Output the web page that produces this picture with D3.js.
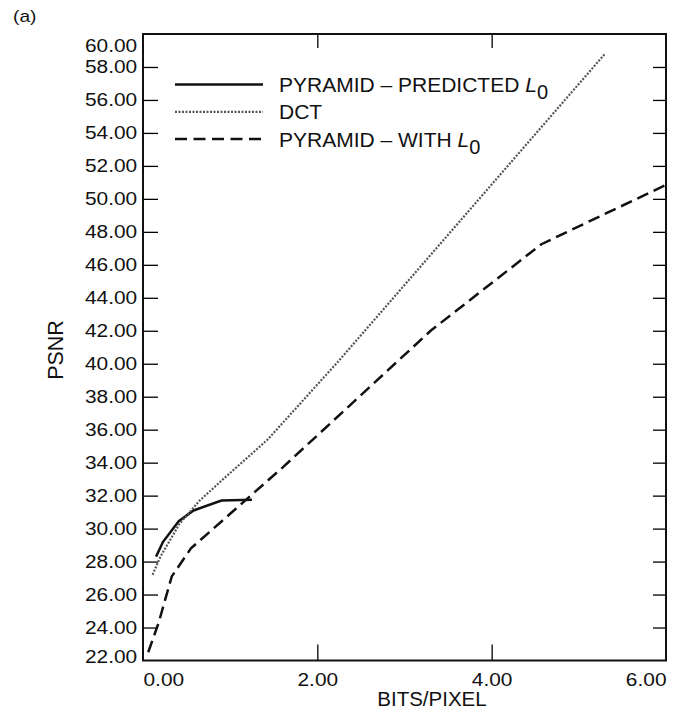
<!DOCTYPE html>
<html>
<head>
<meta charset="utf-8">
<script src="https://cdn.jsdelivr.net/npm/d3@7"></script>
<style>
  body { margin: 0; background: #fff; }
  text { font-family: "Liberation Sans", Arial, Helvetica, sans-serif; fill: #111; }
</style>
</head>
<body>
<div class="psnr-chart"></div>
<script>
// values
var predictedX = [0.15, 0.23, 0.41, 0.58, 0.90, 1.25];
var predictedY = [28.30, 29.20, 30.45, 31.10, 31.70, 31.75];

var dctX = [0.11, 0.20, 0.42, 0.65, 0.92, 1.43, 2.25, 5.30];
var dctY = [27.20, 28.30, 30.30, 31.70, 33.00, 35.40, 40.20, 58.80];

var withX = [0.06, 0.18, 0.33, 0.55, 1.00, 1.60, 3.30, 4.57, 6.00];
var withY = [22.50, 24.30, 27.10, 28.80, 30.90, 33.70, 42.00, 47.25, 50.85];

var xTicks = [0, 2, 4, 6];
var yTicks = d3.range(22, 60.01, 2);
var legendNames = ["PYRAMID \u2013 PREDICTED ", "DCT", "PYRAMID \u2013 WITH "];
var legendSub = [true, false, true];

var margin = {
    top: 34,
    right: 7,
    bottom: 62.5,
    left: 143
  },
  width = 673 - margin.left - margin.right,
  height = 723 - margin.top - margin.bottom;

var svg = d3.select(".psnr-chart")
            .append("svg")
            .attr("width", 673)
            .attr("height", 723);

var g = svg.append("g")
           .attr("transform", "translate(" + margin.left + "," + margin.top + ")");

var x = d3.scaleLinear().domain([0, 6]).range([0, width]);
var y = d3.scaleLinear().domain([22, 60]).range([height, 0]);

var stretch = "scale(1.16,1)";

// left axis with labels, ticks pointing inward
var yAxis = g.append("g")
    .call(d3.axisLeft(y).tickValues(yTicks).tickFormat(d3.format(".2f"))
      .tickSizeInner(-15).tickSizeOuter(0).tickPadding(5));
yAxis.select(".domain").remove();
yAxis.selectAll("line").attr("stroke-width", 1.3)
    .filter(function(d) { return d == 22 || d == 60; }).remove();
yAxis.selectAll("text")
    .attr("font-size", 18)
    .attr("transform", stretch)
    .attr("dy", function(d) {
      if (d == 60) return "0.95em";
      if (d == 22) return "0.1em";
      return "0.32em";
    });

// right axis, ticks only
var yRight = g.append("g")
    .attr("transform", "translate(" + width + ",0)")
    .call(d3.axisRight(y).tickValues(yTicks.slice(1, -1)).tickFormat("")
      .tickSizeInner(-13).tickSizeOuter(0));
yRight.select(".domain").remove();
yRight.selectAll("line").attr("stroke-width", 1.3);

// bottom axis with labels
var xAxis = g.append("g")
    .attr("transform", "translate(0," + height + ")")
    .call(d3.axisBottom(x).tickValues(xTicks).tickFormat(d3.format(".2f"))
      .tickSizeInner(-16).tickSizeOuter(0).tickPadding(13));
xAxis.select(".domain").remove();
xAxis.selectAll("line").attr("stroke-width", 1.3)
    .filter(function(d) { return d == 0 || d == 6; }).remove();
xAxis.selectAll("text")
    .attr("font-size", 18)
    .attr("transform", stretch)
    .attr("text-anchor", function(d) {
      if (d == 0) return "start";
      if (d == 6) return "end";
      return "middle";
    });

// top axis, ticks only
var xTop = g.append("g")
    .call(d3.axisTop(x).tickValues([2, 4]).tickFormat("")
      .tickSizeInner(-14).tickSizeOuter(0));
xTop.select(".domain").remove();
xTop.selectAll("line").attr("stroke-width", 1.3);

// frame
g.append("rect")
    .attr("width", width)
    .attr("height", height)
    .attr("fill", "none")
    .attr("stroke", "#111")
    .attr("stroke-width", 2);

var line = d3.line()
    .x(function(d) { return x(d[0]); })
    .y(function(d) { return y(d[1]); });

var styles = [
  { stroke: "#111", width: 2.5, dash: null },
  { stroke: "#555", width: 2.2, dash: "2,1.5" },
  { stroke: "#111", width: 2.5, dash: "12,6" }
];

var series = [d3.zip(predictedX, predictedY), d3.zip(dctX, dctY), d3.zip(withX, withY)];

g.selectAll(".curve")
    .data(series)
    .enter().append("path")
      .attr("class", "curve")
      .attr("d", line)
      .attr("fill", "none")
      .attr("stroke", function(d, i) { return styles[i].stroke; })
      .attr("stroke-width", function(d, i) { return styles[i].width; })
      .attr("stroke-dasharray", function(d, i) { return styles[i].dash; });

// legend
var legend = svg.selectAll(".legend")
    .data(legendNames)
    .enter().append("g")
      .attr("class", "legend")
      .attr("transform", function(d, i) { return "translate(175," + (84.5 + i * 27.3) + ")"; });

legend.append("line")
    .attr("x2", 88)
    .attr("stroke", function(d, i) { return styles[i].stroke; })
    .attr("stroke-width", function(d, i) { return styles[i].width; })
    .attr("stroke-dasharray", function(d, i) { return i == 2 ? "12,6.5" : styles[i].dash; });

var legendText = legend.append("text")
    .attr("x", 104)
    .attr("y", 7.5)
    .attr("font-size", 21)
    .text(function(d) { return d; });

legendText.filter(function(d, i) { return legendSub[i]; })
    .append("tspan")
      .attr("font-style", "italic")
      .text("L");
legendText.filter(function(d, i) { return legendSub[i]; })
    .append("tspan")
      .attr("font-size", 20)
      .attr("dy", 7)
      .text("0");

// axis titles and panel label
svg.append("text")
    .attr("x", 432)
    .attr("y", 706)
    .attr("text-anchor", "middle")
    .attr("font-size", 20.5)
    .text("BITS/PIXEL");

svg.append("text")
    .attr("transform", "translate(63,350) rotate(-90)")
    .attr("text-anchor", "middle")
    .attr("font-size", 21.5)
    .text("PSNR");

svg.append("text")
    .attr("transform", "translate(13,21.5) scale(1.2,1)")
    .attr("font-size", 16)
    .text("(a)");
</script>
</body>
</html>
